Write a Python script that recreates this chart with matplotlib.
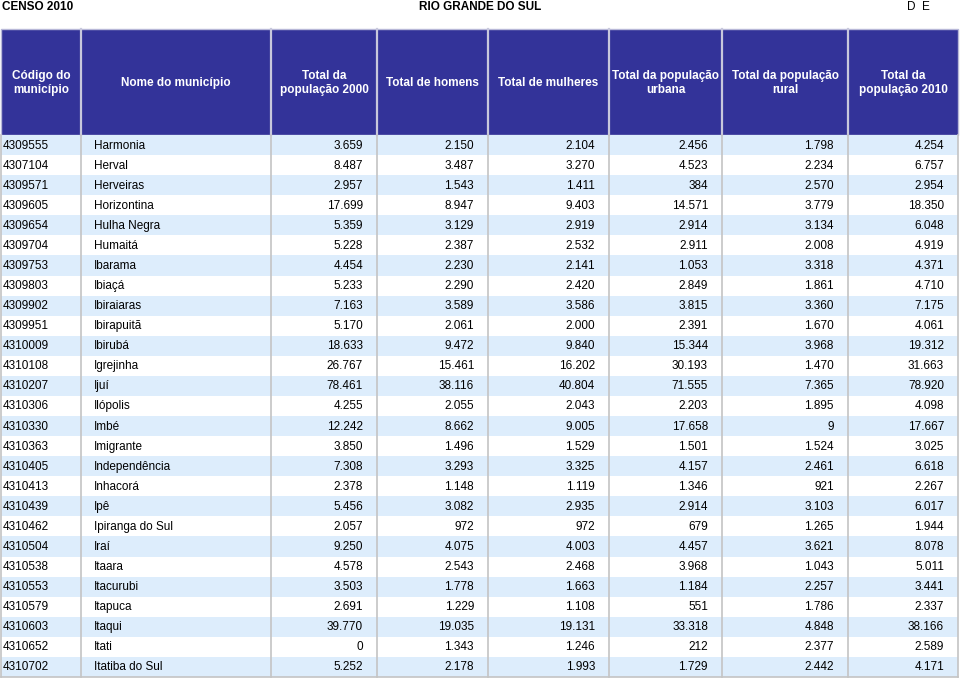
import matplotlib
matplotlib.use("Agg")
import matplotlib.pyplot as plt
from matplotlib.patches import Rectangle

plt.rcParams['font.family'] = ['Liberation Sans', 'DejaVu Sans']

# --- data -------------------------------------------------------------
headers = ['Código do\nmunicípio', 'Nome do município', 'Total da\npopulação 2000',
           'Total de homens', 'Total de mulheres', 'Total da população\nurbana',
           'Total da população\nrural', 'Total da\npopulação 2010']

codes = ['4309555', '4307104', '4309571', '4309605', '4309654', '4309704', '4309753',
         '4309803', '4309902', '4309951', '4310009', '4310108', '4310207', '4310306',
         '4310330', '4310363', '4310405', '4310413', '4310439', '4310462', '4310504',
         '4310538', '4310553', '4310579', '4310603', '4310652', '4310702']
names = ['Harmonia', 'Herval', 'Herveiras', 'Horizontina', 'Hulha Negra', 'Humaitá',
         'Ibarama', 'Ibiaçá', 'Ibiraiaras', 'Ibirapuitã', 'Ibirubá', 'Igrejinha', 'Ijuí',
         'Ilópolis', 'Imbé', 'Imigrante', 'Independência', 'Inhacorá', 'Ipê',
         'Ipiranga do Sul', 'Iraí', 'Itaara', 'Itacurubi', 'Itapuca', 'Itaqui', 'Itati',
         'Itatiba do Sul']
pop2000 = ['3.659', '8.487', '2.957', '17.699', '5.359', '5.228', '4.454', '5.233', '7.163',
           '5.170', '18.633', '26.767', '78.461', '4.255', '12.242', '3.850', '7.308',
           '2.378', '5.456', '2.057', '9.250', '4.578', '3.503', '2.691', '39.770', '0',
           '5.252']
homens = ['2.150', '3.487', '1.543', '8.947', '3.129', '2.387', '2.230', '2.290', '3.589',
          '2.061', '9.472', '15.461', '38.116', '2.055', '8.662', '1.496', '3.293', '1.148',
          '3.082', '972', '4.075', '2.543', '1.778', '1.229', '19.035', '1.343', '2.178']
mulheres = ['2.104', '3.270', '1.411', '9.403', '2.919', '2.532', '2.141', '2.420', '3.586',
            '2.000', '9.840', '16.202', '40.804', '2.043', '9.005', '1.529', '3.325',
            '1.119', '2.935', '972', '4.003', '2.468', '1.663', '1.108', '19.131', '1.246',
            '1.993']
urbana = ['2.456', '4.523', '384', '14.571', '2.914', '2.911', '1.053', '2.849', '3.815',
          '2.391', '15.344', '30.193', '71.555', '2.203', '17.658', '1.501', '4.157',
          '1.346', '2.914', '679', '4.457', '3.968', '1.184', '551', '33.318', '212', '1.729']
rural = ['1.798', '2.234', '2.570', '3.779', '3.134', '2.008', '3.318', '1.861', '3.360',
         '1.670', '3.968', '1.470', '7.365', '1.895', '9', '1.524', '2.461', '921', '3.103',
         '1.265', '3.621', '1.043', '2.257', '1.786', '4.848', '2.377', '2.442']
pop2010 = ['4.254', '6.757', '2.954', '18.350', '6.048', '4.919', '4.371', '4.710', '7.175',
           '4.061', '19.312', '31.663', '78.920', '4.098', '17.667', '3.025', '6.618',
           '2.267', '6.017', '1.944', '8.078', '5.011', '3.441', '2.337', '38.166', '2.589',
           '4.171']

columns = [codes, names, pop2000, homens, mulheres, urbana, rural, pop2010]

# --- layout (pixels) ----------------------------------------------------
col_edges = [1, 81, 271, 377, 488, 609, 722, 848, 958]
head_top, head_bot = 29, 135
row_h = (677 - head_bot) / len(codes)
header_blue = '#333399'
row_blue = '#ddedfc'
grid_grey = '#c4c4c4'
fs = 8.5

fig = plt.figure(figsize=(9.6, 6.81), dpi=100)
ax = fig.add_axes([0, 0, 1, 1])
ax.set_xlim(0, 960)
ax.set_ylim(681, 0)
ax.axis('off')

# titles
ax.text(2, 7, 'CENSO 2010', fontsize=fs, fontweight='bold', va='center', ha='left')
ax.text(480, 7, 'RIO GRANDE DO SUL', fontsize=fs, fontweight='bold', va='center', ha='center')
ax.text(907, 7, 'D  E', fontsize=fs, va='center', ha='left')

# header
ax.add_patch(Rectangle((col_edges[0], head_top), col_edges[-1] - col_edges[0],
                       head_bot - head_top, facecolor=header_blue, edgecolor='#b8b8d8', lw=1))
for j, h in enumerate(headers):
    xc = (col_edges[j] + col_edges[j + 1]) / 2
    ax.text(xc, (head_top + head_bot) / 2 + 1, h, color='white', fontsize=fs,
            fontweight='bold', ha='center', va='center', linespacing=1.25)
for x in col_edges[1:-1]:
    ax.plot([x, x], [head_top, head_bot], color='#c8c8dc', lw=1.6)

# body rows
for i in range(len(codes)):
    y0 = head_bot + i * row_h
    yc = y0 + row_h / 2 + 0.5
    if i % 2 == 0:
        ax.add_patch(Rectangle((col_edges[0], y0), col_edges[-1] - col_edges[0], row_h,
                               facecolor=row_blue, edgecolor='none'))
    for j, col in enumerate(columns):
        if j == 0:
            ax.text(col_edges[0] + 2, yc, col[i], fontsize=fs, ha='left', va='center')
        elif j == 1:
            ax.text(col_edges[1] + 13, yc, col[i], fontsize=fs, ha='left', va='center')
        else:
            ax.text(col_edges[j + 1] - 14, yc, col[i], fontsize=fs, ha='right', va='center')

# body grid
for x in col_edges:
    ax.plot([x, x], [head_bot, 677], color=grid_grey, lw=1.2)
ax.plot([col_edges[0], col_edges[-1]], [677, 677], color=grid_grey, lw=1.2)

fig.savefig('out.png', dpi=100)
